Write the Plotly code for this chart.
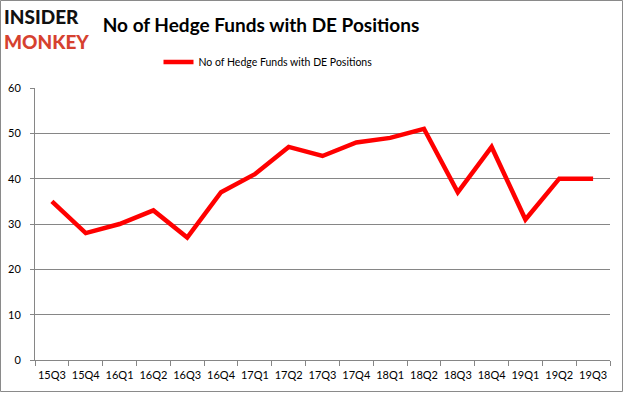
import plotly.graph_objects as go

quarters = ["15Q3", "15Q4", "16Q1", "16Q2", "16Q3", "16Q4", "17Q1", "17Q2", "17Q3",
            "17Q4", "18Q1", "18Q2", "18Q3", "18Q4", "19Q1", "19Q2", "19Q3"]
hedge_funds = [35, 28, 30, 33, 27, 37, 41, 47, 45, 48, 49, 51, 37, 47, 31, 40, 40]
series_name = "No of Hedge Funds with DE Positions"
y_ticks = [0, 10, 20, 30, 40, 50, 60]

W, H = 625, 394
ml, mr, mt, mb = 35, 15, 88, 34
pw, ph = W - ml - mr, H - mt - mb

FONT = "Lato"

fig = go.Figure()
fig.add_trace(go.Scatter(
    x=quarters, y=hedge_funds, mode="lines", name=series_name,
    line=dict(color="#ff0000", width=4.5),
))

grid = "#868686"
fig.update_layout(
    width=W, height=H,
    margin=dict(l=ml, r=mr, t=mt, b=mb, autoexpand=False),
    paper_bgcolor="white", plot_bgcolor="white",
    showlegend=True,
    legend=dict(orientation="h", x=(268 - ml) / pw, xanchor="center",
                y=1 + (mt - 62) / ph, yanchor="middle",
                font=dict(family=FONT, size=10.5, color="#000"),
                itemwidth=30, tracegroupgap=0, bgcolor="rgba(0,0,0,0)"),
    title=dict(text="No of Hedge Funds with DE Positions", x=261 / W, xanchor="center",
               y=1 - 25 / H, yanchor="middle",
               font=dict(family=FONT, size=19, color="#000", weight="bold")),
    xaxis=dict(type="category", tickson="boundaries", range=[-0.5, len(quarters) - 0.5],
               automargin=False, tickangle=0, ticklabelstandoff=5,
               showline=True, linecolor=grid, linewidth=1,
               ticks="outside", ticklen=5, tickcolor=grid,
               showgrid=False,
               tickfont=dict(family=FONT, size=11, color="#000")),
    yaxis=dict(range=[0, 60], tickvals=y_ticks, automargin=False, ticklabelstandoff=7,
               showline=True, linecolor=grid, linewidth=1,
               ticks="outside", ticklen=4, tickcolor=grid,
               showgrid=True, gridcolor=grid, gridwidth=1, zeroline=False,
               tickfont=dict(family=FONT, size=11, color="#000")),
)

# Logo (single two-line text)
fig.add_annotation(text="INSIDER<br><span style='color:#d6412f'>MONKEY</span>",
                   xref="paper", yref="paper", align="left",
                   x=-(ml - 3) / pw, y=1 + (mt - 29) / ph, xanchor="left", yanchor="middle",
                   showarrow=False, borderpad=0,
                   font=dict(family=FONT, size=19, color="#111", weight=900))

# Outer border
fig.add_shape(type="rect", xref="paper", yref="paper",
              x0=-(ml - 0.5) / pw, x1=1 + (mr - 2.5) / pw,
              y0=-(mb - 2.5) / ph, y1=1 + (mt - 0.5) / ph,
              line=dict(color="#8a8a8a", width=1), layer="below")

fig.write_html("out.html", config={"displayModeBar": False},
               post_script="document.body.style.margin='0';document.body.style.overflow='hidden';")
